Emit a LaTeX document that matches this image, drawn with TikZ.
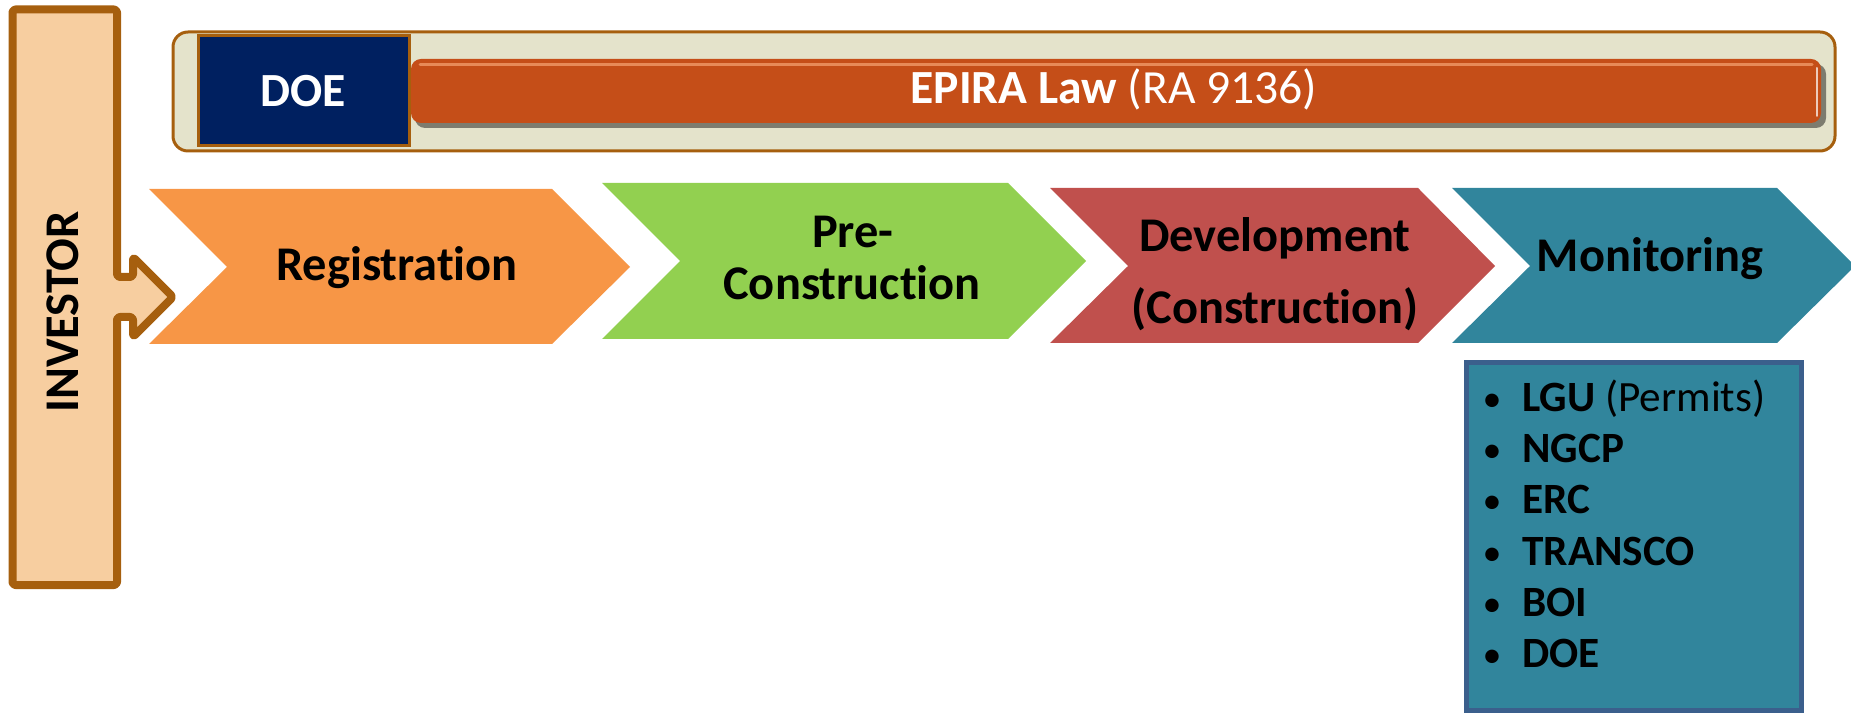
\documentclass[tikz,border=0pt]{standalone}
\usepackage{fontspec}
\setmainfont{Carlito}[Ligatures={NoCommon}]
\definecolor{invfill}{HTML}{F7CEA0}
\definecolor{brownline}{HTML}{A65F0E}
\definecolor{beige}{HTML}{E4E3CB}
\definecolor{navy}{HTML}{002060}
\definecolor{epira}{HTML}{C54E18}
\definecolor{epirahi}{HTML}{F09A68}
\definecolor{orangec}{HTML}{F79646}
\definecolor{greenc}{HTML}{92D050}
\definecolor{redc}{HTML}{C0504D}
\definecolor{tealc}{HTML}{31859C}
\definecolor{boxline}{HTML}{3B5F8C}
\begin{document}
\begin{tikzpicture}[x=0.5pt,y=-0.5pt,
  bigtxt/.style={font=\fontsize{24.2}{28}\selectfont\bfseries, inner sep=0pt, anchor=base},
  hdrtxt/.style={font=\fontsize{23.8}{28}\selectfont, inner sep=0pt, anchor=base, text=white},
  listtxt/.style={font=\fontsize{21.6}{25}\selectfont\bfseries, inner sep=0pt, anchor=base west},
  bullettxt/.style={font=\fontsize{19}{22}\selectfont, inner sep=0pt, anchor=base},
  chevron/.style={draw=none},
  frame/.style={draw=brownline, line width=1.5pt}]
\useasboundingbox (0,0) rectangle (1851,715);
\clip (0,0) rectangle (1851,715);

% investor block with arrow
\draw[draw=brownline, fill=invfill, line width=4pt, line join=round, rounded corners=1.5pt]
  (12.5,9.5) -- (117,9.5) -- (117,277) -- (133,277) -- (133,257) -- (173,297)
  -- (133,337) -- (133,317) -- (117,317) -- (117,585) -- (12.5,585) -- cycle;
\node[bigtxt, anchor=center, rotate=90] (inv) at (63,312) {INVESTOR};

% header bar
\draw[frame, fill=beige, rounded corners=7.5pt] (173,32) rectangle (1835,151);
\draw[frame, fill=navy] (198,36) rectangle (409,146);
\node[hdrtxt, font=\fontsize{23.8}{28}\selectfont\bfseries] (doe) at (303,107) {DOE};
\fill[black, opacity=0.45, rounded corners=5pt] (415,64) rectangle (1826,128);
\fill[epira, rounded corners=5pt] (411,59) rectangle (1821,123);
\draw[epirahi, line width=1.5pt, opacity=0.8, line cap=round] (420,64.5) -- (1812,64.5);
\draw[white, line width=1pt, opacity=0.7, line cap=round] (1817,68) -- (1817,116);
\node[hdrtxt] (epiralaw) at (1114,104) {\textbf{EPIRA Law} (RA 9136)};

% chevrons
\fill[chevron, orangec] (149,189) -- (552,189) -- (630,267) -- (552,344) -- (149,344) -- (227,267) -- cycle;
\fill[chevron, greenc] (602,183) -- (1008,183) -- (1086,261) -- (1008,339) -- (602,339) -- (680,261) -- cycle;
\fill[chevron, redc] (1050,188) -- (1418,188) -- (1495,266) -- (1418,343) -- (1050,343) -- (1128,266) -- cycle;
\fill[chevron, tealc] (1452,188) -- (1777,188) -- (1855,266) -- (1777,343) -- (1452,343) -- (1530,266) -- cycle;

\node[bigtxt] (reg) at (397,281) {Registration};
\node[bigtxt] (pre1) at (853,248) {Pre-};
\node[bigtxt] (pre2) at (852,300) {Construction};
\node[bigtxt] (dev1) at (1275,252) {Development};
\node[bigtxt] (dev2) at (1275,324) {(Construction)};
\node[bigtxt] (mon) at (1650,272) {Monitoring};

% agencies box
\draw[draw=boxline, fill=tealc, line width=2.5pt] (1466,363) rectangle (1801,710);
\foreach \t [count=\i] in {{LGU \mdseries(Permits)},NGCP,ERC,TRANSCO,BOI,DOE}{
  \node[bullettxt] (b\i) at (1492,{412+51*(\i-1)}) {•};
  \node[listtxt] (item\i) at (1522,{412+51*(\i-1)}) {\t};
}
\end{tikzpicture}
\end{document}
